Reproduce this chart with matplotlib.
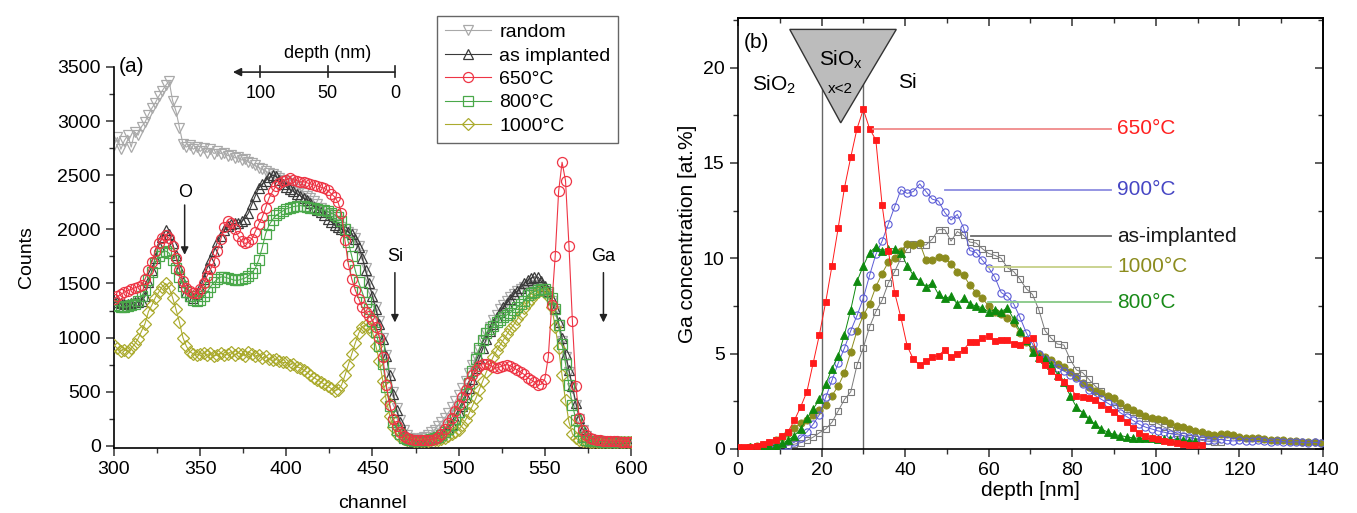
import numpy as np
import matplotlib
matplotlib.use("Agg")
import matplotlib.pyplot as plt
from matplotlib.patches import Polygon
from matplotlib.ticker import MultipleLocator

plt.rcParams["font.family"] = ["Liberation Sans", "DejaVu Sans"]
plt.rcParams["mathtext.fontset"] = "custom"
plt.rcParams["mathtext.rm"] = "Liberation Sans"
plt.rcParams["mathtext.it"] = "Liberation Sans:italic"
plt.rcParams["axes.linewidth"] = 1.2

FS = 14

# ---------------- (a) RBS spectra ----------------
channel = np.arange(300, 601, 2)

counts_random = [
    2780, 2850, 2740, 2820, 2870, 2760, 2900, 2870, 2950, 2990,   # 300
    3060, 3120, 3170, 3230, 3280, 3330, 3370, 3190, 3090, 2940,   # 320
    2790, 2760, 2780, 2740, 2760, 2720, 2750, 2710, 2740, 2700,   # 340
    2720, 2700, 2710, 2680, 2690, 2660, 2670, 2640, 2650, 2620,   # 360
    2610, 2590, 2570, 2560, 2540, 2520, 2510, 2490, 2470, 2460,   # 380
    2450, 2430, 2410, 2390, 2370, 2340, 2310, 2290, 2260, 2230,   # 400
    2200, 2170, 2140, 2110, 2080, 2050, 2020, 2000, 1980, 1960,   # 420
    1920, 1850, 1760, 1640, 1520, 1400, 1280, 1150, 1000, 840,    # 440
    670, 500, 350, 240, 150, 100, 75, 60, 62, 70,                 # 460
    80, 100, 125, 150, 185, 220, 260, 305, 355, 410,              # 480
    470, 530, 600, 670, 750, 820, 890, 970, 1040, 1100,           # 500
    1160, 1210, 1260, 1300, 1340, 1375, 1405, 1430, 1450, 1470,   # 520
    1480, 1490, 1490, 1480, 1460, 1430, 1400, 1340, 1250, 1120,   # 540
    970, 820, 680, 530, 380, 250, 150, 90, 60, 48,                # 560
    44, 42, 40, 40, 38, 38, 37, 36, 36, 35,                       # 580
    35]

counts_implanted = [
    1330, 1325, 1320, 1315, 1315, 1320, 1325, 1330, 1340, 1380,
    1510, 1620, 1740, 1850, 1930, 1990, 1960, 1870, 1760, 1630,
    1510, 1420, 1380, 1370, 1400, 1460, 1540, 1640, 1720, 1800,
    1880, 1940, 1990, 2030, 2045, 2055, 2060, 2075, 2100, 2150,
    2230, 2310, 2380, 2420, 2450, 2480, 2500, 2490, 2460, 2420,
    2390, 2370, 2350, 2330, 2310, 2290, 2270, 2240, 2210, 2180,
    2160, 2130, 2100, 2070, 2040, 2020, 2000, 1990, 1975, 1960,
    1910, 1840, 1740, 1620, 1500, 1380, 1260, 1130, 990, 830,
    650, 480, 330, 220, 130, 85, 62, 50, 46, 46,
    50, 53, 60, 70, 85, 105, 130, 160, 200, 250,
    310, 370, 450, 530, 620, 720, 810, 900, 990, 1060,
    1130, 1190, 1240, 1280, 1320, 1360, 1400, 1430, 1460, 1500,
    1530, 1550, 1560, 1560, 1520, 1480, 1430, 1360, 1270, 1140,
    1000, 850, 700, 550, 400, 260, 160, 95, 60, 48,
    44, 42, 40, 40, 38, 38, 37, 36, 36, 35,
    35]

counts_650 = [
    1360, 1380, 1400, 1420, 1435, 1445, 1460, 1470, 1490, 1540,
    1620, 1700, 1800, 1870, 1920, 1950, 1920, 1850, 1740, 1620,
    1520, 1460, 1430, 1410, 1410, 1450, 1500, 1570, 1630, 1700,
    1800, 1910, 2020, 2080, 2060, 2000, 1940, 1890, 1870, 1880,
    1910, 1980, 2050, 2110, 2200, 2290, 2350, 2400, 2430, 2450,
    2460, 2470, 2460, 2450, 2440, 2440, 2430, 2420, 2410, 2400,
    2390, 2380, 2360, 2330, 2300, 2250, 2150, 1900, 1680, 1540,
    1440, 1360, 1280, 1240, 1200, 1160, 1100, 1000, 820, 560,
    380, 250, 180, 130, 95, 75, 62, 55, 50, 50,
    52, 54, 58, 66, 80, 110, 160, 210, 260, 320,
    380, 450, 520, 590, 650, 700, 740, 760, 760, 745,
    730, 720, 730, 740, 750, 740, 720, 700, 680, 660,
    630, 610, 590, 560, 570, 620, 820, 1300, 1750, 2350,
    2620, 2450, 1850, 1150, 550, 260, 150, 100, 75, 62,
    55, 50, 47, 45, 44, 42, 42, 40, 40, 40,
    40]

counts_800 = [
    1300, 1295, 1285, 1280, 1290, 1300, 1315, 1340, 1380, 1440,
    1530, 1610, 1690, 1750, 1790, 1800, 1780, 1720, 1640, 1560,
    1480, 1420, 1380, 1350, 1340, 1350, 1380, 1420, 1470, 1510,
    1540, 1560, 1560, 1550, 1540, 1530, 1530, 1540, 1550, 1570,
    1600, 1640, 1720, 1830, 1960, 2040, 2090, 2130, 2150, 2170,
    2190, 2200, 2210, 2215, 2220, 2215, 2210, 2200, 2195, 2190,
    2180, 2175, 2165, 2150, 2135, 2110, 2080, 2000, 1880, 1750,
    1620, 1510, 1420, 1330, 1260, 1150, 1050, 920, 760, 540,
    370, 220, 150, 105, 75, 60, 52, 47, 45, 46,
    50, 55, 62, 72, 85, 100, 125, 155, 195, 245,
    310, 390, 480, 580, 690, 800, 900, 980, 1040, 1080,
    1110, 1140, 1165, 1190, 1210, 1230, 1255, 1280, 1310, 1340,
    1390, 1410, 1425, 1440, 1450, 1450, 1420, 1370, 1260, 1120,
    940, 760, 560, 380, 240, 140, 85, 58, 48, 44,
    42, 41, 40, 40, 39, 38, 38, 37, 37, 36,
    36]

counts_1000 = [
    930, 900, 880, 890, 870, 900, 940, 990, 1060, 1130,
    1240, 1300, 1370, 1420, 1470, 1500, 1460, 1370, 1260, 1140,
    1000, 920, 870, 850, 840, 850, 860, 840, 860, 830,
    840, 860, 840, 850, 870, 840, 860, 850, 830, 870,
    850, 830, 840, 810, 830, 800, 790, 800, 780, 770,
    770, 750, 760, 730, 720, 700, 680, 650, 630, 610,
    590, 570, 550, 530, 510, 520, 560, 650, 750, 850,
    950, 1040, 1100, 1120, 1100, 1050, 920, 780, 600, 420,
    280, 170, 110, 80, 62, 54, 50, 47, 46, 45,
    45, 47, 50, 54, 58, 65, 75, 88, 105, 125,
    150, 190, 240, 300, 370, 440, 520, 600, 680, 750,
    820, 880, 930, 980, 1030, 1080, 1120, 1170, 1220, 1270,
    1320, 1360, 1400, 1420, 1440, 1420, 1380, 1280, 1100, 900,
    650, 420, 220, 110, 70, 52, 45, 42, 40, 38,
    37, 37, 36, 36, 35, 35, 35, 34, 34, 34,
    34]

# ---------------- (b) Ga depth profiles ----------------
STEP = 1.5

conc_650 = [
    0.10, 0.12, 0.12, 0.18, 0.25, 0.35, 0.48, 0.68, 0.91, 1.5,
    2.2, 3.0, 4.5, 6.0, 7.7, 9.6, 11.6, 13.7, 15.3, 16.8,
    17.8, 16.8, 16.2, 12.8, 10.4, 8.2, 6.9, 5.4, 4.7, 4.4,
    4.6, 4.8, 4.9, 5.2, 4.8, 5.0, 5.2, 5.6, 5.6, 5.8,
    5.9, 5.65, 5.7, 5.7, 5.5, 5.45, 5.7, 5.8, 4.7, 4.4,
    4.1, 3.8, 3.5, 3.2, 2.8, 2.7, 2.65, 2.55, 2.3, 2.1,
    1.95, 1.65, 1.4, 1.1, 0.85, 0.7, 0.58, 0.5, 0.42, 0.36,
    0.32, 0.26, 0.22, 0.2, 0.2]
start_650 = 0.0

conc_800 = [
    0.08, 0.1, 0.12, 0.16, 0.2, 0.3, 0.45, 0.7, 1.05, 1.6,
    2.1, 2.6, 3.4, 4.2, 4.9, 6.0, 7.3, 8.8, 9.6, 10.3,
    10.6, 10.4, 10.5, 10.5, 10.3, 9.6, 9.1, 8.8, 8.5, 8.7,
    8.1, 7.9, 8.0, 7.6, 7.9, 7.6, 7.5, 7.4, 7.2, 7.3,
    7.2, 7.4, 6.8, 6.2, 5.7, 5.1, 4.8, 4.7, 4.4, 3.9,
    3.5, 2.8, 2.2, 1.9, 1.55, 1.3, 1.05, 0.88, 0.76, 0.7,
    0.64, 0.58, 0.56, 0.55, 0.55, 0.52, 0.5, 0.5, 0.48, 0.45,
    0.42, 0.4]
start_800 = 3.0

conc_900 = [
    0.05, 0.08, 0.1, 0.15, 0.22, 0.35, 0.6, 0.9, 1.3, 1.8,
    2.7, 3.6, 4.5, 5.3, 6.2, 7.0, 7.9, 9.1, 10.2, 10.9,
    11.8, 12.7, 13.6, 13.4, 13.5, 13.9, 13.5, 13.1, 13.0, 12.4,
    12.0, 12.3, 11.6, 10.4, 10.3, 9.9, 9.5, 9.0, 8.2, 8.0,
    7.6, 6.9, 6.1, 5.5, 5.0, 4.7, 4.5, 4.25, 4.1, 3.9,
    3.7, 3.4, 3.1, 2.8, 2.6, 2.4, 2.2, 1.9, 1.7, 1.5,
    1.3, 1.15, 1.05, 0.95, 0.88, 0.8, 0.75, 0.7, 0.62, 0.55,
    0.5, 0.48, 0.45, 0.5, 0.45, 0.42, 0.45, 0.42, 0.4, 0.45,
    0.4, 0.38, 0.42, 0.38, 0.35, 0.38, 0.35, 0.32, 0.35, 0.32]
start_900 = 6.0

conc_implanted = [
    0.1, 0.15, 0.18, 0.25, 0.33, 0.45, 0.62, 0.85, 1.05, 1.4,
    2.0, 2.6, 3.0, 4.4, 5.3, 6.4, 7.2, 7.8, 8.7, 9.3,
    10.0, 10.5, 10.75, 10.7, 10.7, 11.0, 11.5, 11.5, 10.9, 11.4,
    11.2, 10.85, 10.8, 10.5, 10.25, 10.15, 10.0, 9.5, 9.3, 8.9,
    8.4, 8.1, 7.3, 6.2, 5.8, 5.5, 5.45, 4.7, 4.15, 4.0,
    3.65, 3.3, 3.05, 2.7, 2.45, 2.3, 2.1, 1.95, 1.8, 1.6,
    1.48, 1.32, 1.15, 1.0, 0.82, 0.7, 0.6, 0.52, 0.45, 0.4,
    0.38, 0.35]
start_implanted = 9.0

conc_1000 = [
    0.1, 0.15, 0.22, 0.3, 0.48, 0.65, 0.82, 1.1, 1.35, 1.5,
    1.8, 2.05, 2.3, 2.8, 3.3, 4.0, 5.1, 6.2, 7.0, 7.6,
    8.5, 9.2, 9.8, 10.0, 10.4, 10.75, 10.7, 10.8, 9.9, 9.9,
    10.05, 10.0, 9.7, 9.3, 9.1, 8.6, 8.2, 7.9, 7.5, 7.2,
    7.1, 6.85, 6.6, 6.1, 5.6, 5.25, 5.0, 4.8, 4.65, 4.45,
    4.3, 4.05, 3.8, 3.45, 3.25, 3.05, 2.95, 2.8, 2.65, 2.4,
    2.2, 2.05, 1.9, 1.75, 1.62, 1.55, 1.5, 1.35, 1.22, 1.15,
    1.05, 0.95, 0.9, 0.8, 0.75, 0.8, 0.78, 0.75, 0.65, 0.6,
    0.58, 0.55, 0.5, 0.48, 0.45, 0.45, 0.42, 0.4, 0.38, 0.35,
    0.35, 0.32]
start_1000 = 3.0


def depth_axis(start, values):
    return start + STEP * np.arange(len(values))


fig = plt.figure(figsize=(13.57, 5.13), dpi=100)

# ---- panel (a) ----
ax1 = fig.add_axes([0.0840, 0.1267, 0.3810, 0.7427])
mk = dict(mfc="none", ms=7.2, mew=0.9, lw=0.8)
l_rand, = ax1.plot(channel, counts_random, "-v", color="#a9a9a9", zorder=2, **mk)
l_impl, = ax1.plot(channel, counts_implanted, "-^", color="#3a3a3a", zorder=3, **mk)
l_1000, = ax1.plot(channel, counts_1000, "-D", color="#abab2e", zorder=4,
                   mfc="none", ms=6.3, mew=0.9, lw=0.8)
l_800, = ax1.plot(channel, counts_800, "-s", color="#4aa84a", zorder=5, **mk)
l_650, = ax1.plot(channel, counts_650, "-o", color="#ee3545", zorder=6, **mk)

ax1.set_xlim(300, 600)
ax1.set_ylim(-20, 3500)
ax1.spines["top"].set_visible(False)
ax1.spines["right"].set_visible(False)
ax1.xaxis.set_major_locator(MultipleLocator(50))
ax1.xaxis.set_minor_locator(MultipleLocator(25))
ax1.yaxis.set_major_locator(MultipleLocator(500))
ax1.yaxis.set_minor_locator(MultipleLocator(250))
ax1.tick_params(which="both", direction="out", labelsize=FS, color="#333")
ax1.tick_params(which="major", length=6, width=1.1)
ax1.tick_params(which="minor", length=3.5, width=1.0)
ax1.set_xlabel("channel", fontsize=FS, labelpad=12)
ax1.set_ylabel("Counts", fontsize=FS, labelpad=16)

ax1.text(302.5, 3500, "(a)", fontsize=FS + 1, ha="left", va="center")

# element markers
for name, ch, top, tip, bottom in [("O", 341, 2345, 2225, 1765),
                                   ("Si", 463, 1750, 1600, 1140),
                                   ("Ga", 584, 1750, 1600, 1140)]:
    ax1.text(ch, top, name, fontsize=FS - 1, ha="center", va="center")
    ax1.annotate("", xy=(ch, bottom), xytext=(ch, tip),
                 arrowprops=dict(arrowstyle="-|>", color="#222", lw=1.1,
                                 mutation_scale=11, shrinkA=0, shrinkB=0))

# depth scale bar (0 nm at channel 463, 39 channels per 50 nm)
ch0, ch_per_nm, ybar = 463.0, 39.0 / 50.0, 3453
ax1.annotate("", xy=(369, ybar), xytext=(ch0, ybar), annotation_clip=False,
             arrowprops=dict(arrowstyle="-|>", color="#222", lw=1.2,
                             mutation_scale=12, shrinkA=0, shrinkB=0))
for nm in (0, 50, 100):
    xc = ch0 - nm * ch_per_nm
    ax1.plot([xc, xc], [ybar - 50, ybar + 55], color="#222", lw=1.2, clip_on=False)
    ax1.text(xc, 3255, str(nm), fontsize=FS - 1, ha="center", va="center")
ax1.text(ch0 - 50 * ch_per_nm, 3625, "depth (nm)", fontsize=FS - 1,
         ha="center", va="center", clip_on=False)

fig.legend([l_rand, l_impl, l_650, l_800, l_1000],
           ["random", "as implanted", "650°C", "800°C", "1000°C"],
           loc="upper right", bbox_to_anchor=(628 / 1357, 1 - 6 / 513),
           fontsize=FS, frameon=True, fancybox=False, edgecolor="#666",
           framealpha=1, handlelength=2.4, handletextpad=0.4,
           labelspacing=0.3, borderpad=0.4, numpoints=1)

# ---- panel (b) ----
ax2 = fig.add_axes([0.5438, 0.1248, 0.4311, 0.8402])

ax2.plot([20, 20], [0, 19.5], color="#666", lw=1.0, zorder=1)
ax2.plot([30, 30], [0, 19.5], color="#666", lw=1.0, zorder=1)
ax2.add_patch(Polygon([(12.4, 22.0), (37.9, 22.0), (24.6, 17.1)], closed=True,
                      fc="#bcbcbc", ec="#333", lw=1.0, zorder=2))

ax2.plot(depth_axis(start_implanted, conc_implanted), conc_implanted, "-s",
         color="#7a7a7a", mfc="none", ms=5.0, mew=0.8, lw=0.7, zorder=3)
ax2.plot(depth_axis(start_1000, conc_1000), conc_1000, "-o",
         color="#8c8c1e", mfc="#8c8c1e", ms=5.2, mew=0.6, lw=0.7, zorder=4)
ax2.plot(depth_axis(start_900, conc_900), conc_900, "-o",
         color="#5c5cd6", mfc="none", ms=5.2, mew=0.8, lw=0.7, zorder=5)
ax2.plot(depth_axis(start_800, conc_800), conc_800, "-^",
         color="#0e8a0e", mfc="#0e8a0e", ms=6.0, mew=0.6, lw=0.7, zorder=6)
ax2.plot(depth_axis(start_650, conc_650), conc_650, "-s",
         color="#ff1a1a", mfc="#ff1a1a", ms=4.8, mew=0.6, lw=0.7, zorder=7)

# series labels with leader lines
for txt, y, x0, lc, tc in [("650°C", 16.8, 32.3, "#f08a8a", "#ff2020"),
                           ("900°C", 13.6, 49.5, "#8c8ce0", "#4646c4"),
                           ("as-implanted", 11.15, 55.7, "#6a6a6a", "#1a1a1a"),
                           ("1000°C", 9.55, 59.8, "#c6d088", "#8c8c1e"),
                           ("800°C", 7.7, 59.8, "#86c886", "#188a18")]:
    ax2.plot([x0, 89.2], [y, y], color=lc, lw=1.3, zorder=8)
    ax2.text(90.8, y, txt, color=tc, fontsize=FS + 1, ha="left", va="center")

ax2.text(1.4, 21.3, "(b)", fontsize=FS + 1, ha="left", va="center")
ax2.text(24.6, 20.4, r"SiO$_{\mathrm{x}}$", fontsize=FS + 1, ha="center", va="center", zorder=9)
ax2.text(24.6, 18.85, "x<2", fontsize=FS - 3, ha="center", va="center", zorder=9)
ax2.text(8.6, 19.1, r"SiO$_{\mathrm{2}}$", fontsize=FS + 1, ha="center", va="center")
ax2.text(40.6, 19.2, "Si", fontsize=FS + 1, ha="center", va="center")

ax2.set_xlim(0, 140)
ax2.set_ylim(0, 22.6)
ax2.xaxis.set_major_locator(MultipleLocator(20))
ax2.xaxis.set_minor_locator(MultipleLocator(10))
ax2.yaxis.set_major_locator(MultipleLocator(5))
ax2.yaxis.set_minor_locator(MultipleLocator(2.5))
ax2.tick_params(which="both", direction="out", labelsize=FS, color="#333")
ax2.tick_params(which="major", length=6, width=1.1)
ax2.tick_params(which="minor", length=3.5, width=1.0)
ax2.set_xlabel("depth [nm]", fontsize=FS + 1, labelpad=1)
ax2.set_ylabel("Ga concentration [at.%]", fontsize=FS + 1, labelpad=4)

# mirrored ticks on top and right point inward
top = ax2.secondary_xaxis("top")
top.xaxis.set_major_locator(MultipleLocator(20))
top.xaxis.set_minor_locator(MultipleLocator(10))
top.tick_params(which="both", direction="in", labeltop=False, color="#333")
top.tick_params(which="major", length=6, width=1.1)
top.tick_params(which="minor", length=3.5, width=1.0)
right = ax2.secondary_yaxis("right")
right.yaxis.set_major_locator(MultipleLocator(5))
right.yaxis.set_minor_locator(MultipleLocator(2.5))
right.tick_params(which="both", direction="in", labelright=False, color="#333")
right.tick_params(which="major", length=6, width=1.1)
right.tick_params(which="minor", length=3.5, width=1.0)

fig.savefig("out.png", dpi=100)
